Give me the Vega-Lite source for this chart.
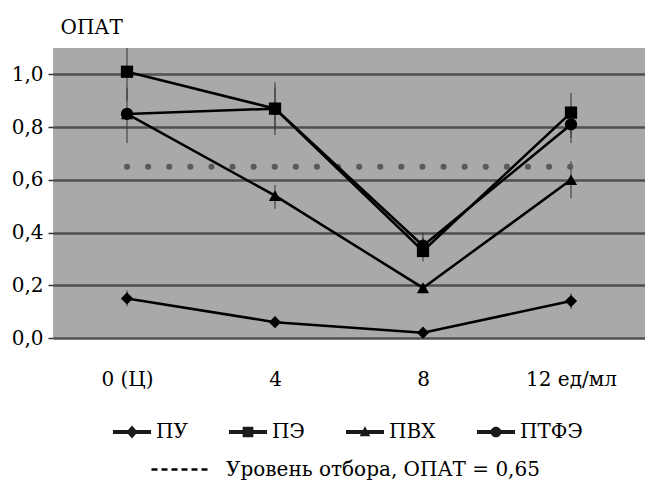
{
  "$schema": "https://vega.github.io/schema/vega-lite/v6.json",
  "width": 592,
  "height": 290,
  "autosize": "none",
  "padding": {"left": 53, "top": 48, "right": 0, "bottom": 142},
  "background": "white",
  "config": {
    "view": {"fill": "#a9a9a9", "stroke": null},
    "font": "DejaVu Serif",
    "axis": {"labelFont": "DejaVu Serif", "titleFont": "DejaVu Serif"},
    "legend": {"labelFont": "DejaVu Serif", "titleFont": "DejaVu Serif"}
  },
  "datasets": {
    "series": [
      {"series": "ПУ", "dose": "0 (Ц)", "v": 0.15},
      {"series": "ПУ", "dose": "4", "v": 0.06},
      {"series": "ПУ", "dose": "8", "v": 0.02},
      {"series": "ПУ", "dose": "12 ед/мл", "v": 0.14},
      {"series": "ПЭ", "dose": "0 (Ц)", "v": 1.01},
      {"series": "ПЭ", "dose": "4", "v": 0.87},
      {"series": "ПЭ", "dose": "8", "v": 0.33},
      {"series": "ПЭ", "dose": "12 ед/мл", "v": 0.855},
      {"series": "ПВХ", "dose": "0 (Ц)", "v": 0.85},
      {"series": "ПВХ", "dose": "4", "v": 0.54},
      {"series": "ПВХ", "dose": "8", "v": 0.19},
      {"series": "ПВХ", "dose": "12 ед/мл", "v": 0.6},
      {"series": "ПТФЭ", "dose": "0 (Ц)", "v": 0.85},
      {"series": "ПТФЭ", "dose": "4", "v": 0.87},
      {"series": "ПТФЭ", "dose": "8", "v": 0.35},
      {"series": "ПТФЭ", "dose": "12 ед/мл", "v": 0.81}
    ],
    "err": [
      {"series": "ПЭ", "dose": "0 (Ц)", "v": 0.9, "v2": 1.1},
      {"series": "ПТФЭ", "dose": "0 (Ц)", "v": 0.74, "v2": 0.95},
      {"series": "ПЭ", "dose": "4", "v": 0.77, "v2": 0.97},
      {"series": "ПТФЭ", "dose": "4", "v": 0.79, "v2": 0.95},
      {"series": "ПВХ", "dose": "4", "v": 0.49, "v2": 0.58},
      {"series": "ПЭ", "dose": "8", "v": 0.29, "v2": 0.38},
      {"series": "ПТФЭ", "dose": "8", "v": 0.31, "v2": 0.4},
      {"series": "ПВХ", "dose": "8", "v": 0.17, "v2": 0.21},
      {"series": "ПЭ", "dose": "12 ед/мл", "v": 0.76, "v2": 0.93},
      {"series": "ПТФЭ", "dose": "12 ед/мл", "v": 0.74, "v2": 0.88},
      {"series": "ПВХ", "dose": "12 ед/мл", "v": 0.53, "v2": 0.67},
      {"series": "ПУ", "dose": "0 (Ц)", "v": 0.12, "v2": 0.18},
      {"series": "ПУ", "dose": "12 ед/мл", "v": 0.11, "v2": 0.17}
    ],
    "level": [
      {"label": "Уровень отбора, ОПАТ = 0,65", "dose": "0 (Ц)", "v": 0.65},
      {"label": "Уровень отбора, ОПАТ = 0,65", "dose": "12 ед/мл", "v": 0.65}
    ]
  },
  "encoding": {
    "x": {
      "field": "dose",
      "type": "ordinal",
      "sort": ["0 (Ц)", "4", "8", "12 ед/мл"],
      "scale": {"type": "point", "padding": 0.5, "domain": ["0 (Ц)", "4", "8", "12 ед/мл"]},
      "axis": {
        "title": null,
        "labelAngle": 0,
        "domain": false,
        "ticks": false,
        "grid": false,
        "labelFont": "DejaVu Serif",
        "labelFontSize": 20,
        "labelColor": "black",
        "labelPadding": 31
      }
    },
    "y": {
      "field": "v",
      "type": "quantitative",
      "scale": {"domain": [0, 1.1], "nice": false, "zero": true},
      "axis": {
        "values": [0, 0.2, 0.4, 0.6, 0.8, 1.0],
        "labelExpr": "replace(format(datum.value, '.1f'), '.', ',')",
        "grid": true,
        "gridColor": "#505050",
        "gridWidth": 2.5,
        "domain": false,
        "tickColor": "#333333",
        "tickSize": 5,
        "tickWidth": 1.5,
        "labelFont": "DejaVu Serif",
        "labelFontSize": 20,
        "labelColor": "black",
        "labelPadding": 5,
        "title": "ОПАТ",
        "titleFont": "DejaVu Serif",
        "titleAngle": 0,
        "titleAlign": "left",
        "titleBaseline": "alphabetic",
        "titleX": 7,
        "titleY": -15,
        "titleFontSize": 20,
        "titleFontWeight": "normal",
        "titleColor": "black"
      }
    }
  },
  "layer": [
    {
      "data": {"name": "err"},
      "mark": {"type": "rule", "color": "#3a3a3a", "strokeWidth": 1.5, "opacity": 0.7},
      "encoding": {"y2": {"field": "v2"}}
    },
    {
      "data": {"name": "level"},
      "mark": {"type": "line", "color": "#5a5a5a", "strokeWidth": 6, "strokeDash": [0.1, 21], "strokeCap": "round"},
      "encoding": {}
    },
    {
      "data": {"name": "series"},
      "mark": {"type": "line", "color": "black", "strokeWidth": 2.5},
      "encoding": {"detail": {"field": "series"}}
    },
    {
      "data": {"name": "series"},
      "mark": {"type": "point", "filled": true, "color": "black", "opacity": 1, "size": 150},
      "encoding": {
        "shape": {
          "field": "series",
          "type": "nominal",
          "scale": {"domain": ["ПУ", "ПЭ", "ПВХ", "ПТФЭ"], "range": ["diamond", "square", "triangle-up", "circle"]},
          "legend": null
        }
      }
    },
    {
      "data": {"name": "series"},
      "transform": [{"filter": "datum.v > 5"}],
      "mark": {"type": "point", "filled": true, "color": "#1a1a1a", "opacity": 1},
      "encoding": {
        "shape": {
          "field": "series",
          "type": "nominal",
          "scale": {
            "domain": ["ПУ", "ПЭ", "ПВХ", "ПТФЭ"],
            "range": [
              "M-1,-0.11H1V0.11H-1Z M0,-0.34L0.3,0L0,0.34L-0.3,0Z",
              "M-1,-0.11H1V0.11H-1Z M-0.28,-0.28H0.28V0.28H-0.28Z",
              "M-1,-0.11H1V0.11H-1Z M0,-0.3L0.28,0.22H-0.28Z",
              "M-1,-0.11H1V0.11H-1Z M-0.28,0A0.28,0.28 0 1,1 0.28,0A0.28,0.28 0 1,1 -0.28,0Z"
            ]
          },
          "legend": {
            "orient": "none",
            "legendX": 60,
            "legendY": 365,
            "direction": "horizontal",
            "columns": 4,
            "gridAlign": "none",
            "title": null,
            "labelFont": "DejaVu Serif",
            "labelFontSize": 20,
            "labelColor": "black",
            "labelOffset": 5,
            "columnPadding": 41,
            "symbolSize": 1444,
            "symbolStrokeWidth": 0,
            "symbolFillColor": "#1a1a1a",
            "symbolOpacity": 1
          }
        }
      }
    },
    {
      "data": {"name": "level"},
      "transform": [{"filter": "datum.v > 5"}],
      "mark": {"type": "line", "color": "black", "strokeWidth": 2.5},
      "encoding": {
        "strokeDash": {
          "field": "label",
          "type": "nominal",
          "scale": {"domain": ["Уровень отбора, ОПАТ = 0,65"], "range": [[6, 4]]},
          "legend": {
            "orient": "none",
            "legendX": 97,
            "legendY": 390,
            "title": null,
            "labelFont": "DejaVu Serif",
            "labelFontSize": 20,
            "labelColor": "black",
            "labelOffset": 13,
            "labelLimit": 500,
            "symbolType": "stroke",
            "symbolSize": 3600,
            "symbolStrokeWidth": 2.5,
            "symbolStrokeColor": "black"
          }
        }
      }
    }
  ],
  "resolve": {"scale": {"shape": "independent"}, "legend": {"shape": "independent"}}
}
